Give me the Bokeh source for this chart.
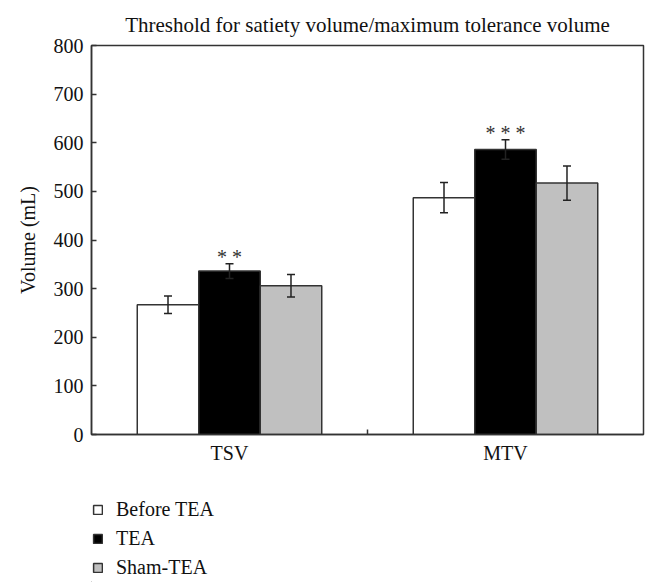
from bokeh.plotting import figure
from bokeh.layouts import column
from bokeh.models import (ColumnDataSource, Whisker, TeeHead, FixedTicker, Range1d,
                          Legend, LegendItem)
from bokeh.core.properties import value
from bokeh.embed import file_html
from bokeh.resources import INLINE

# ---- data ----
categories = ["TSV", "MTV"]
series = ["Before TEA", "TEA", "Sham-TEA"]
before_tea = [267, 487]
tea = [336, 586]
sham_tea = [306, 517]
before_err = [18, 31]
tea_err = [15, 20]
sham_err = [23, 35]
tea_marks = ["* *", "* * *"]
y_ticks = [0, 100, 200, 300, 400, 500, 600, 700, 800]

fills = ["#ffffff", "#000000", "#c0c0c0"]
FONT = "Liberation Serif"
W = 655
bar_w = 0.2228
offsets = [-bar_w, 0.0, bar_w]

p = figure(width=W, height=470, output_backend="svg", toolbar_location=None,
           x_range=Range1d(0, 2), y_range=Range1d(0, 800),
           min_border_left=91, min_border_right=12, min_border_top=45,
           min_border_bottom=36)

p.title.text = "Threshold for satiety volume/maximum tolerance volume"
p.title.align = "center"
p.title.text_font = FONT
p.title.text_font_size = "21px"
p.title.text_font_style = "normal"
p.title.text_color = "#111111"
p.title.standoff = 18

p.grid.visible = False
p.outline_line_color = "#333333"
p.outline_line_width = 1.5
p.background_fill_color = "white"
p.border_fill_color = "white"

vals = [before_tea, tea, sham_tea]
errs = [before_err, tea_err, sham_err]
for i, name in enumerate(series):
    xs = [j + 0.5 + offsets[i] for j in range(len(categories))]
    src = ColumnDataSource(dict(x=xs, top=vals[i],
                                lo=[v - e for v, e in zip(vals[i], errs[i])],
                                hi=[v + e for v, e in zip(vals[i], errs[i])]))
    p.vbar(x="x", top="top", width=bar_w, bottom=0, source=src,
           fill_color=fills[i], line_color="#333333", line_width=1.5)
    wh = Whisker(source=src, base="x", lower="lo", upper="hi", level="overlay",
                 line_color="#222222", line_width=1.5,
                 upper_head=TeeHead(size=8, line_color="#222222", line_width=1.5),
                 lower_head=TeeHead(size=8, line_color="#222222", line_width=1.5))
    p.add_layout(wh)
    if i == 1:
        star_src = ColumnDataSource(dict(x=xs,
                                         y=[v + e for v, e in zip(vals[i], errs[i])],
                                         t=tea_marks))
        p.text(x="x", y="y", text="t", source=star_src, text_align="center",
               text_baseline="middle", y_offset=-7, text_font=value(FONT),
               text_font_size="20px", text_color="#333333")

# y axis
yax = p.yaxis[0]
yax.ticker = FixedTicker(ticks=y_ticks)
yax.major_tick_in = 5
yax.major_tick_out = 0
yax.minor_tick_line_color = None
yax.axis_line_color = "#333333"
yax.axis_line_width = 1.5
yax.major_tick_line_color = "#333333"
yax.major_tick_line_width = 1.5
yax.major_label_text_font = FONT
yax.major_label_text_font_size = "20px"
yax.major_label_text_color = "#111111"
yax.major_label_standoff = 8
yax.axis_label = "Volume (mL)"
yax.axis_label_text_font = FONT
yax.axis_label_text_font_size = "20px"
yax.axis_label_text_font_style = "normal"
yax.axis_label_text_color = "#111111"
yax.axis_label_standoff = 12

# x axis
xax = p.xaxis[0]
xax.ticker = FixedTicker(ticks=[j + 0.5 for j in range(len(categories))], minor_ticks=[1.0])
xax.major_label_overrides = {j + 0.5: c for j, c in enumerate(categories)}
xax.major_tick_in = 0
xax.major_tick_out = 0
xax.minor_tick_in = 5
xax.minor_tick_out = 0
xax.minor_tick_line_color = "#333333"
xax.minor_tick_line_width = 1.5
xax.axis_line_color = "#333333"
xax.axis_line_width = 1.5
xax.major_label_text_font = FONT
xax.major_label_text_font_size = "20px"
xax.major_label_text_color = "#111111"
xax.major_label_standoff = 7

# legend panel (separate figure below the chart; its frame aligns with the chart's)
pl = figure(width=W, height=112, output_backend="svg", toolbar_location=None,
            x_range=Range1d(0, 1), y_range=Range1d(0, 1),
            min_border=0, outline_line_color=None)
pl.axis.visible = False
pl.grid.visible = False
leg_renderers = []
for i, name in enumerate(series):
    # swatch-only renderer: its single bar lies outside the visible range
    r = pl.vbar(x=[-10], top=[-10], bottom=-11, width=0.1, fill_color=fills[i],
                line_color="#333333", line_width=1.5)
    leg_renderers.append(r)
legend = Legend(items=[LegendItem(label=s, renderers=[r]) for s, r in zip(series, leg_renderers)],
                location=(1, 3), orientation="vertical",
                glyph_width=11, glyph_height=11, label_standoff=13,
                label_text_font=FONT, label_text_font_size="20px",
                label_text_color="#111111", label_height=20, spacing=6,
                padding=0, margin=0, border_line_color=None,
                background_fill_alpha=0)
pl.add_layout(legend, "center")

layout = column(p, pl, spacing=0)
open("out.html", "w").write(file_html(layout, INLINE))
